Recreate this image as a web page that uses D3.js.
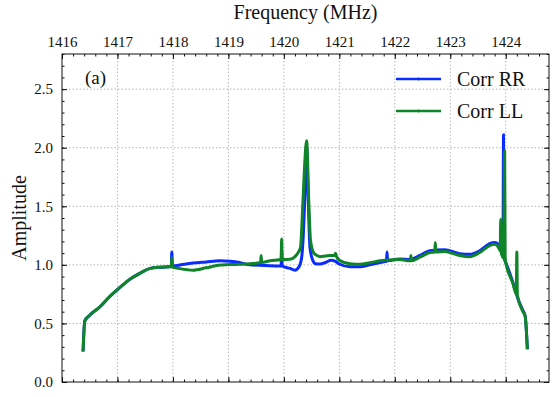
<!DOCTYPE html>
<html>
<head>
<meta charset="utf-8">
<script src="https://cdn.jsdelivr.net/npm/d3@7"></script>
<style>
  body { margin: 0; background: #fff; }
  svg text { font-family: "Liberation Serif", "Times New Roman", serif; fill: #111; }
  .grid line { stroke: #b8b8b8; stroke-dasharray: 1.5,2; stroke-width: 1; }
  .axis text { font-size: 15px; }
  .axis line { stroke: #111; stroke-width: 1; }
</style>
</head>
<body>
<div class="chart"></div>
<script>
const margin = ({top: 54, right: 8, bottom: 15, left: 62});
const width = 557 - margin.left - margin.right;
const height = 397 - margin.top - margin.bottom;

// frequency ticks (MHz) and amplitude ticks
const freqTicks = [1416, 1417, 1418, 1419, 1420, 1421, 1422, 1423, 1424];
const ampTicks = [0.0, 0.5, 1.0, 1.5, 2.0, 2.5];

// Corr RR
const rrFreq = [1416.38, 1416.41, 1416.50, 1416.68, 1416.86, 1417.05, 1417.23, 1417.41, 1417.59, 1417.77,
  1417.97, 1417.98, 1417.99, 1418.2, 1418.36, 1418.6, 1418.85, 1419.03, 1419.2, 1419.39,
  1419.66, 1419.93, 1419.95, 1419.96, 1419.97, 1420.11, 1420.2, 1420.27, 1420.32, 1420.35,
  1420.38, 1420.41, 1420.44, 1420.47, 1420.52, 1420.57, 1420.65, 1420.75, 1420.85, 1420.93,
  1421.0, 1421.19, 1421.37, 1421.55, 1421.8, 1421.85, 1421.86, 1421.87, 1422.09, 1422.27,
  1422.45, 1422.63, 1422.9, 1423.17, 1423.35, 1423.53, 1423.71, 1423.8, 1423.89, 1423.95,
  1423.96, 1423.97, 1424.01, 1424.13, 1424.22, 1424.31, 1424.35, 1424.39];
const rrAmp = [0.26, 0.52, 0.57, 0.64, 0.73, 0.81, 0.88, 0.93, 0.97, 0.98,
  0.985, 1.11, 0.99, 1.005, 1.015, 1.025, 1.035, 1.03, 1.02, 1.0,
  0.995, 0.99, 0.99, 1.12, 0.99, 0.97, 0.955, 0.98, 1.06, 1.25,
  1.6, 2.0, 1.55, 1.15, 1.04, 1.01, 1.007, 1.02, 1.04, 1.03,
  1.007, 0.984, 0.984, 1.0, 1.027, 1.03, 1.11, 1.035, 1.05, 1.045,
  1.08, 1.12, 1.13, 1.095, 1.09, 1.12, 1.18, 1.19, 1.16, 1.1,
  2.11, 1.06, 1.01, 0.85, 0.71, 0.61, 0.565, 0.28];

// Corr LL
const llFreq = [1416.38, 1416.41, 1416.50, 1416.68, 1416.86, 1417.05, 1417.23, 1417.41, 1417.59, 1417.77,
  1417.97, 1417.98, 1417.99, 1418.1, 1418.36, 1418.6, 1418.85, 1419.2, 1419.39, 1419.58,
  1419.59, 1419.60, 1419.75, 1419.95, 1419.96, 1419.97, 1420.11, 1420.2, 1420.25, 1420.3,
  1420.34, 1420.37, 1420.41, 1420.45, 1420.48, 1420.54, 1420.6, 1420.65, 1420.75, 1420.83,
  1420.92, 1420.93, 1420.95, 1421.0, 1421.19, 1421.37, 1421.55, 1421.73, 1421.82, 1422.09,
  1422.27, 1422.28, 1422.29, 1422.30, 1422.45, 1422.63, 1422.72, 1422.73, 1422.74, 1422.9,
  1423.17, 1423.35, 1423.53, 1423.71, 1423.8, 1423.88, 1423.90, 1423.91, 1423.92, 1423.96,
  1423.98, 1423.99, 1424.01, 1424.13, 1424.19, 1424.2, 1424.21, 1424.31, 1424.35, 1424.39];
const llAmp = [0.26, 0.52, 0.57, 0.64, 0.73, 0.81, 0.88, 0.93, 0.97, 0.98,
  0.985, 1.06, 0.98, 0.97, 0.955, 0.975, 0.998, 1.005, 1.01, 1.02,
  1.08, 1.02, 1.035, 1.045, 1.22, 1.045, 1.047, 1.07, 1.10, 1.15,
  1.5, 1.81, 2.06, 1.53, 1.21, 1.10, 1.08, 1.07, 1.075, 1.08,
  1.08, 1.10, 1.07, 1.04, 1.01, 1.005, 1.018, 1.035, 1.04, 1.045,
  1.035, 1.035, 1.08, 1.035, 1.065, 1.105, 1.11, 1.19, 1.11, 1.115,
  1.08, 1.07, 1.105, 1.165, 1.175, 1.14, 1.12, 1.39, 1.1, 1.06,
  1.97, 1.05, 1.0, 0.84, 0.75, 1.11, 0.74, 0.60, 0.56, 0.28];

const seriesNames = ['Corr RR', 'Corr LL'];
const seriesColors = ['#0a2cff', '#108428'];

const rr = rrFreq.map((f, i) => ({f: f, a: rrAmp[i]}));
const ll = llFreq.map((f, i) => ({f: f, a: llAmp[i]}));

const xScale = d3.scaleLinear().domain([1416, 1424.78]).range([0, width]);
const yScale = d3.scaleLinear().domain([0, 2.8]).range([height, 0]);

const svg = d3.select('.chart').append('svg')
  .attr('width', width + margin.left + margin.right)
  .attr('height', height + margin.top + margin.bottom)
  .append('g')
  .attr('transform', 'translate(' + margin.left + ',' + margin.top + ')');

// grid
svg.append('g').attr('class', 'grid')
  .selectAll('line').data(freqTicks.slice(1)).enter().append('line')
  .attr('x1', d => xScale(d)).attr('x2', d => xScale(d))
  .attr('y1', 0).attr('y2', height);
svg.append('g').attr('class', 'grid')
  .selectAll('line').data(ampTicks.slice(1)).enter().append('line')
  .attr('x1', 0).attr('x2', width)
  .attr('y1', d => yScale(d)).attr('y2', d => yScale(d));

// curves
const line = d3.line()
  .x(d => xScale(d.f))
  .y(d => yScale(d.a))
  .curve(d3.curveMonotoneX);

[rr, ll].forEach((s, i) => {
  svg.append('path')
    .datum(s)
    .attr('fill', 'none')
    .attr('stroke', seriesColors[i])
    .attr('stroke-width', 3)
    .attr('stroke-linejoin', 'round')
    .attr('d', line);
});

// axes, ticks pointing inward
const minorX = d3.range(1416, 1424.8, 0.2);
const minorY = d3.range(0, 2.81, 0.1);

svg.append('g').attr('class', 'axis')
  .call(d3.axisTop(xScale).tickValues(freqTicks).tickSize(-5).tickPadding(7).tickFormat(d3.format('d')));
svg.append('g').attr('class', 'axis')
  .call(d3.axisTop(xScale).tickValues(minorX).tickSize(-2.5).tickFormat(''));
svg.append('g').attr('class', 'axis')
  .attr('transform', `translate(0, ${height})`)
  .call(d3.axisBottom(xScale).tickValues(freqTicks).tickSize(-5).tickFormat(''));
svg.append('g').attr('class', 'axis')
  .attr('transform', `translate(0, ${height})`)
  .call(d3.axisBottom(xScale).tickValues(minorX).tickSize(-2.5).tickFormat(''));
svg.append('g').attr('class', 'axis')
  .call(d3.axisLeft(yScale).tickValues(ampTicks).tickSize(-5).tickPadding(9).tickFormat(d3.format('.1f')));
svg.append('g').attr('class', 'axis')
  .call(d3.axisLeft(yScale).tickValues(minorY).tickSize(-2.5).tickFormat(''));
svg.append('g').attr('class', 'axis')
  .attr('transform', `translate(${width}, 0)`)
  .call(d3.axisRight(yScale).tickValues(ampTicks).tickSize(-5).tickFormat(''));
svg.append('g').attr('class', 'axis')
  .attr('transform', `translate(${width}, 0)`)
  .call(d3.axisRight(yScale).tickValues(minorY).tickSize(-2.5).tickFormat(''));
svg.selectAll('.axis .domain').remove();

svg.append('rect')
  .attr('width', width).attr('height', height)
  .attr('fill', 'none').attr('stroke', '#111').attr('stroke-width', 1);

// labels
svg.append('text')
  .attr('x', width / 2).attr('y', -35)
  .attr('text-anchor', 'middle')
  .style('font-size', '20px')
  .text('Frequency (MHz)');

svg.append('text')
  .attr('transform', `translate(-36, ${height / 2}) rotate(-90)`)
  .attr('text-anchor', 'middle')
  .style('font-size', '20px')
  .text('Amplitude');

svg.append('text')
  .attr('x', 23).attr('y', 30)
  .style('font-size', '19px')
  .text('(a)');

// legend
const legend = svg.append('g').attr('transform', 'translate(334, 25)');
seriesNames.forEach((name, i) => {
  const g = legend.append('g').attr('transform', `translate(0, ${i * 32})`);
  g.append('line')
    .attr('x1', 0).attr('x2', 45)
    .attr('stroke', seriesColors[i]).attr('stroke-width', 2.6);
  g.append('line')
    .attr('x1', 22.5).attr('x2', 22.5).attr('y1', -1.5).attr('y2', 1.5)
    .attr('stroke', seriesColors[i]).attr('stroke-width', 1);
  g.append('text')
    .attr('x', 61).attr('y', 7)
    .style('font-size', '20px')
    .text(name);
});
</script>
</body>
</html>
